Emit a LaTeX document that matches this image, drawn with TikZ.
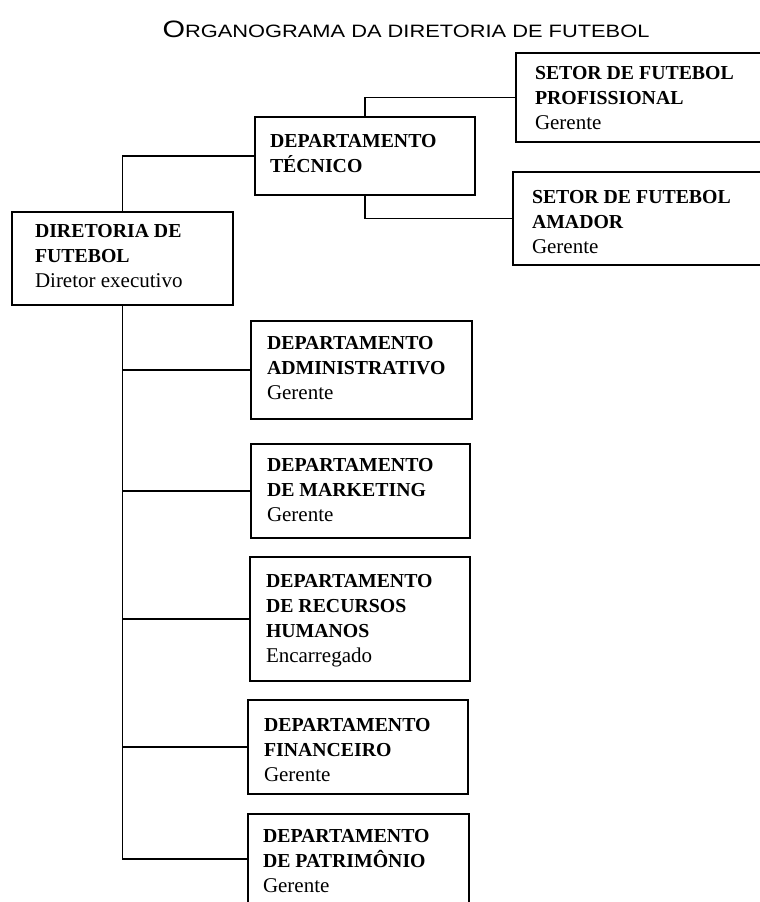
\documentclass[tikz,border=0pt]{standalone}
\usepackage{fontspec}
\setmainfont{Liberation Serif}
\newfontfamily\titlefont[FakeStretch=1.22]{Liberation Sans}

% stacked lines whose reference point is the first baseline
\newcommand\orglines[1]{\vtop{\baselineskip=25.3pt\lineskiplimit=-20pt\lineskip=0pt #1}}
\newcommand\hd[1]{\hbox{\fontsize{19.8}{25}\selectfont\bfseries #1}}
\newcommand\rl[1]{\hbox{\fontsize{21}{25}\selectfont #1}}

\tikzset{
  orgbox/.style={draw=black, line width=1.3pt, rectangle, anchor=north west,
    inner sep=0pt, outer sep=0pt},
  orgtext/.style={anchor=base west, inner sep=0pt, outer sep=0pt},
  link/.style={draw=black, line width=1.1pt},
}

\begin{document}
\begin{tikzpicture}[x=1pt, y=-1pt]
\useasboundingbox (0,0) rectangle (760,902);
\fill[white] (0,0) rectangle (760,902);
\clip (0,0) rectangle (760,902);

% title
\node[anchor=base, inner sep=0pt] (title) at (406,37)
  {\titlefont{\fontsize{23.7}{24}\selectfont O}{\fontsize{17.9}{20}\selectfont RGANOGRAMA DA DIRETORIA DE FUTEBOL}};

% boxes
\node[orgbox, minimum width=221pt, minimum height=93pt] (dir) at (12,212) {};
\node[orgtext] (dirt) at (35,237) {\orglines{\hd{DIRETORIA DE}\hd{FUTEBOL}\rl{Diretor executivo}}};

\node[orgbox, minimum width=220pt, minimum height=78pt] (tec) at (255,117) {};
\node[orgtext] (tect) at (270,147) {\orglines{\hd{DEPARTAMENTO}\hd{TÉCNICO}}};

\node[orgbox, minimum width=259pt, minimum height=89pt] (prof) at (516,53) {};
\node[orgtext] (proft) at (535,79) {\orglines{\hd{SETOR DE FUTEBOL}\hd{PROFISSIONAL}\rl{Gerente}}};

\node[orgbox, minimum width=262pt, minimum height=93pt] (amad) at (513,172) {};
\node[orgtext] (amadt) at (532,203) {\orglines{\hd{SETOR DE FUTEBOL}\hd{AMADOR}\rl{Gerente}}};

\node[orgbox, minimum width=221pt, minimum height=98pt] (adm) at (251,321) {};
\node[orgtext] (admt) at (267,349) {\orglines{\hd{DEPARTAMENTO}\hd{ADMINISTRATIVO}\rl{Gerente}}};

\node[orgbox, minimum width=219pt, minimum height=94pt] (mkt) at (251,444) {};
\node[orgtext] (mktt) at (267,471) {\orglines{\hd{DEPARTAMENTO}\hd{DE MARKETING}\rl{Gerente}}};

\node[orgbox, minimum width=220pt, minimum height=124pt] (rh) at (250,557) {};
\node[orgtext] (rht) at (266,587) {\orglines{\hd{DEPARTAMENTO}\hd{DE RECURSOS}\hd{HUMANOS}\rl{Encarregado}}};

\node[orgbox, minimum width=220pt, minimum height=94pt] (fin) at (248,700) {};
\node[orgtext] (fint) at (264,731) {\orglines{\hd{DEPARTAMENTO}\hd{FINANCEIRO}\rl{Gerente}}};

\node[orgbox, minimum width=221pt, minimum height=90pt] (pat) at (248,814) {};
\node[orgtext] (patt) at (263,842) {\orglines{\hd{DEPARTAMENTO}\hd{DE PATRIMÔNIO}\rl{Gerente}}};

% connectors
\draw[link] (dir.north) |- (tec.west);
\draw[link] (tec.north) |- (prof.west);
\draw[link] (tec.south) |- (amad.west);
\draw[link] (dir.south) |- (pat.west);
\draw[link] (adm.west) -- (adm.west -| dir.south);
\draw[link] (mkt.west) -- (mkt.west -| dir.south);
\draw[link] (rh.west) -- (rh.west -| dir.south);
\draw[link] (fin.west) -- (fin.west -| dir.south);
\end{tikzpicture}
\end{document}
